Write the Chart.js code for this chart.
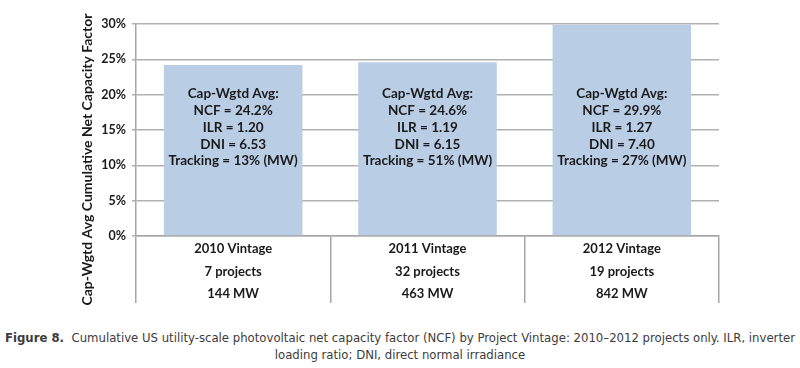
<!DOCTYPE html>
<html>
<head>
<meta charset="utf-8">
<script src="https://cdn.jsdelivr.net/npm/chart.js@4.4.1/dist/chart.umd.min.js"></script>
<style>
  html, body { margin: 0; padding: 0; background: #fff; }
  #wrap { width: 800px; height: 310px; position: relative; }
  #caption {
    width: 800px; text-align: center; color: #3c3c3c; white-space: nowrap;
    font-family: "Liberation Sans Narrow", "DejaVu Sans Condensed", sans-serif;
    font-size: 13px; line-height: 17px; margin-top: 19px;
  }
  #caption b { font-weight: bold; }
</style>
</head>
<body>
<div id="wrap"><canvas id="myChart" width="800" height="310"></canvas></div>
<div id="caption"><b>Figure 8.</b>&nbsp; Cumulative US utility-scale photovoltaic net capacity factor (NCF) by Project Vintage: 2010–2012 projects only. ILR, inverter<br>loading ratio; DNI, direct normal irradiance</div>
<script>
// data
const vintages = ["2010 Vintage", "2011 Vintage", "2012 Vintage"];
const projects = ["7 projects", "32 projects", "19 projects"];
const capacityMW = ["144 MW", "463 MW", "842 MW"];
const ncf = [24.2, 24.6, 29.9];
const ilr = ["1.20", "1.19", "1.27"];
const dni = ["6.53", "6.15", "7.40"];
const tracking = ["13%", "51%", "27%"];
const yTicks = [0, 5, 10, 15, 20, 25, 30];

const labels = vintages.map((v, i) => [v, projects[i], capacityMW[i]]);
const boxText = ncf.map((v, i) => [
    "Cap-Wgtd Avg:",
    "NCF = " + v.toFixed(1) + "%",
    "ILR = " + ilr[i],
    "DNI = " + dni[i],
    "Tracking = " + tracking[i] + " (MW)"
]);

const FONT = "Lato, 'Open Sans', sans-serif";

// text inside bars + rotated y title
const extras = {
    id: "extras",
    afterDatasetsDraw(chart) {
        const ctx = chart.ctx;
        const area = chart.chartArea;
        const meta = chart.getDatasetMeta(0);
        ctx.save();
        ctx.fillStyle = "#1a1a1a";
        ctx.font = "bold 13.5px " + FONT;
        ctx.textAlign = "center";
        ctx.textBaseline = "middle";
        const lineH = 16.8;
        const midY = area.top + (area.bottom - area.top) * 0.488;
        meta.data.forEach((bar, i) => {
            const lines = boxText[i];
            const y0 = midY - lineH * (lines.length - 1) / 2;
            lines.forEach((t, j) => ctx.fillText(t, bar.x, y0 + j * lineH));
        });
        // y title
        const xs = chart.scales.x;
        ctx.font = "bold 14px " + FONT;
        ctx.translate(87, (area.top + xs.bottom) / 2 - 4);
        ctx.rotate(-Math.PI / 2);
        ctx.fillText("Cap-Wgtd Avg Cumulative Net Capacity Factor", 0, 0);
        ctx.restore();
    }
};

const ctx = document.getElementById("myChart").getContext("2d");
new Chart(ctx, {
    type: "bar",
    data: {
        labels: labels,
        datasets: [{
            data: ncf,
            backgroundColor: "#b9cde5",
            borderWidth: 0,
            barPercentage: 0.713,
            categoryPercentage: 1.0
        }]
    },
    options: {
        responsive: false,
        animation: false,
        layout: { padding: { top: 24, right: 81, bottom: 7, left: 0 } },
        plugins: {
            legend: { display: false },
            tooltip: { enabled: false }
        },
        scales: {
            x: {
                grid: {
                    offset: true,
                    drawOnChartArea: false,
                    tickLength: 67,
                    color: "#a6a6a6",
                    lineWidth: 1.5
                },
                border: { color: "#a6a6a6", width: 1.5 },
                ticks: {
                    color: "#1a1a1a",
                    font: { family: FONT, size: 13, weight: "bold", lineHeight: 1.73 },
                    padding: -65,
                    maxRotation: 0
                },
                afterFit: s => { s.height = 67; }
            },
            y: {
                min: 0,
                max: 30,
                afterBuildTicks: s => { s.ticks = yTicks.map(v => ({ value: v })); },
                grid: { color: "#b0b0b0", lineWidth: 1.5, tickLength: 4 },
                border: { color: "#a6a6a6", width: 1.5 },
                ticks: {
                    color: "#1a1a1a",
                    font: { family: FONT, size: 12.5, weight: "bold" },
                    padding: 6,
                    callback: v => v + "%"
                },
                afterFit: s => { s.width = 136; }
            }
        }
    },
    plugins: [extras]
});
</script>
</body>
</html>
